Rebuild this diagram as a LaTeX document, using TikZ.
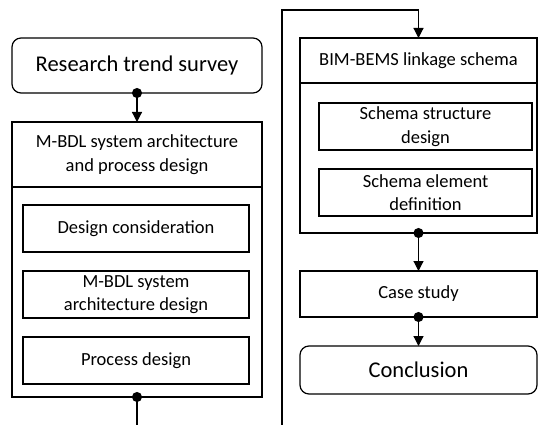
\documentclass[tikz,border=0pt]{standalone}
\usepackage{fontspec}
\setmainfont{Carlito}
\usetikzlibrary{positioning}
\usetikzlibrary{arrows.meta}

\tikzset{
  box/.style={draw, line width=1.2pt, outer sep=0pt, inner sep=2pt, align=center,
    font=\fontsize{18.5}{23.5}\selectfont},
  term/.style={box, rounded corners=9pt, minimum width=250pt, minimum height=55pt,
    font=\fontsize{22.5}{26}\selectfont},
  stage/.style={box, minimum width=237pt},
  task/.style={box, minimum width=226pt, minimum height=47pt},
  flow/.style={line width=1.2pt, {Circle[length=10pt]}-{Triangle[length=10pt,width=10pt]}, shorten <=-5pt},
  cut/.style={line width=1.2pt, {Circle[length=10pt]}-, shorten <=-5pt},
  link/.style={line width=1.2pt, -{Triangle[length=10pt,width=10pt]}},
}

\begin{document}
\begin{tikzpicture}[x=1pt,y=1pt]
\useasboundingbox (0,0) rectangle (538,-425);
% Define nodes
% Left column
\node[term] (survey) at (137,-65.5) {Research trend survey};
\node[box, minimum width=250pt, minimum height=65pt, below=29pt of survey] (archhead)
  {M-BDL system architecture\\and process design};
\node[box, minimum width=250pt, minimum height=210pt, below=0pt of archhead] (archbody) {};
\node[task, below=18pt of archhead, xshift=-1pt] (consider) {Design consideration};
\node[task, below=19pt of consider] (archdesign) {M-BDL system\\architecture design};
\node[task, below=19pt of archdesign] (procdesign) {Process design};

% Right column
\node[stage, minimum height=45pt] (bimhead) at (418.5,-60.5) {BIM-BEMS linkage schema};
\node[stage, minimum height=150pt, below=0pt of bimhead] (bimbody) {};
\node[task, minimum width=213pt, below=20pt of bimhead, xshift=7pt] (structure)
  {Schema structure\\design};
\node[task, minimum width=213pt, below=19pt of structure] (element)
  {Schema element\\definition};
\node[stage, minimum height=46pt, below=38pt of bimbody] (casestudy) {Case study};
\node[term, minimum width=237pt, minimum height=48pt, below=29pt of casestudy] (conclusion)
  {Conclusion};

% Cut ends and turn
\coordinate (cutL) at (137,-425);
\coordinate (cutR) at (282,-425);
\coordinate (turn) at (282,-10);

% Edges
\draw[flow] (survey) -- (archhead);
\draw[cut] (archbody) -- (cutL);
\draw[link] (cutR) -- (turn) -| (bimhead);
\draw[flow] (bimbody) -- (casestudy);
\draw[flow] (casestudy) -- (conclusion);
\end{tikzpicture}
\end{document}
